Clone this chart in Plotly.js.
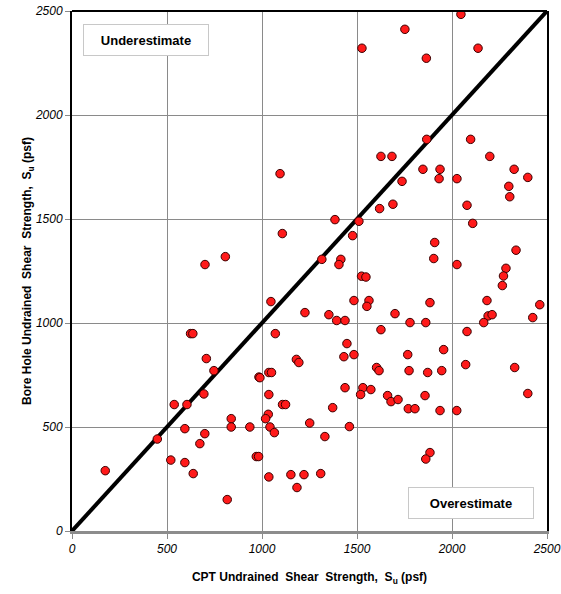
<!DOCTYPE html>
<html>
<head>
<meta charset="utf-8">
<script src="https://cdn.plot.ly/plotly-3.0.1.min.js"></script>
<style>html,body{margin:0;padding:0;background:#fff}#chart{width:561px;height:594px}</style>
</head>
<body>
<div id="chart"></div>
<script>
// CPT undrained shear strength (psf)
var cptSu = [
  1095,1107,807,700,
  2047,1752,1526,2137,1865,1867,2098,1626,1684,2199,1847,1937,2327,1932,2026,2399,1737,2299,2304,1619,1689,2079,2109,1384,1510,1477,1909,2337,1315,1415,1405,1904,2026,2284,2271,1524,1547,
  1047,1226,624,636,1070,707,747,1181,1194,1036,1050,984,989,694,1036,538,605,1108,1124,838,1033,1019,1251,594,838,936,1042,1065,699,449,673,520,594,638,970,982,175,1036,1152,1221,1184,817,
  2265,1484,1563,1552,1884,2184,2462,1352,1393,1437,1700,1779,1862,2190,2211,2167,2425,1626,2079,1447,1431,1484,1767,1956,1603,1616,1774,1872,1946,2072,2330,2399,1437,1531,1573,1519,1661,1679,1716,1858,1372,1770,1805,1937,2025,1460,1331,1884,1862,1309
];
// Bore hole undrained shear strength (psf)
var boreSu = [
  1718,1430,1319,1281,
  2484,2412,2321,2321,2273,1883,1883,1801,1801,1801,1739,1739,1739,1694,1694,1700,1681,1657,1607,1550,1571,1566,1479,1497,1489,1420,1387,1350,1306,1306,1281,1310,1281,1263,1226,1225,1221,
  1103,1050,949,949,949,829,771,825,810,762,762,740,737,659,656,608,608,608,608,540,561,540,519,492,500,500,500,473,468,442,420,341,329,276,358,358,290,260,271,271,209,151,
  1180,1108,1108,1080,1098,1108,1088,1040,1012,1012,1045,1002,1002,1034,1040,1002,1026,968,959,901,838,848,848,872,786,771,771,762,771,800,786,661,689,689,680,656,651,622,632,651,593,588,588,579,579,502,454,377,346,276
];
// 1:1 line
var lineX = [0, 2500];
var lineY = [0, 2500];
var tickVals = [0, 500, 1000, 1500, 2000, 2500];
var tickText = ['0', '500', '1000', '1500', '2000', '2500'];

var font = 'Arial, "Liberation Sans", sans-serif';

var traces = [
  {x: lineX, y: lineY, mode: 'lines', type: 'scatter', line: {color: '#000', width: 4}, hoverinfo: 'skip', showlegend: false},
  {x: cptSu, y: boreSu, mode: 'markers', type: 'scatter', showlegend: false,
   marker: {color: '#ff1a1a', size: 8.5, line: {color: '#3a0000', width: 1}}}
];

var axisCommon = {
  range: [0, 2500], tickvals: tickVals,
  ticktext: tickText.map(function (t) { return '<i>' + t + '</i>'; }),
  showgrid: true, gridcolor: '#8a8a8a', gridwidth: 1, zeroline: false,
  ticks: 'outside', ticklen: 5, tickcolor: '#8a8a8a', tickwidth: 1,
  tickfont: {family: font, size: 12, color: '#000', style: 'italic'},
  showline: true
};

var layout = {
  width: 561, height: 594,
  margin: {l: 72, r: 14, t: 11, b: 63},
  paper_bgcolor: '#fff', plot_bgcolor: '#fff',
  font: {family: font, color: '#000'},
  xaxis: Object.assign({}, axisCommon, {
    linecolor: '#8c8c8c', linewidth: 3, mirror: false,
    title: {text: '<b>CPT Undrained  Shear  Strength,  S<sub>u</sub> (psf)</b>', font: {family: font, size: 12, color: '#000'}, standoff: 18}
  }),
  yaxis: Object.assign({}, axisCommon, {
    linecolor: '#000', linewidth: 2, mirror: true,
    title: {text: '<b>Bore Hole Undrained  Shear  Strength,  S<sub>u</sub> (psf)</b>', font: {family: font, size: 12, color: '#000'}, standoff: 0}
  }),
  shapes: [
    {type: 'line', xref: 'paper', yref: 'paper', x0: 0, x1: 1, y0: 1, y1: 1, line: {color: '#000', width: 2}}
  ],
  annotations: [
    {x: 387, y: 2359, xref: 'x', yref: 'y', text: '<b>Underestimate</b>', showarrow: false,
     font: {family: font, size: 13, color: '#000'}, bgcolor: '#fff', bordercolor: '#c8c8c8', borderwidth: 1,
     borderpad: 8, width: 108, height: 14},
    {x: 2100, y: 137, xref: 'x', yref: 'y', text: '<b>Overestimate</b>', showarrow: false,
     font: {family: font, size: 13, color: '#000'}, bgcolor: '#fff', bordercolor: '#c8c8c8', borderwidth: 1,
     borderpad: 8, width: 108, height: 14}
  ]
};

Plotly.newPlot('chart', traces, layout, {displayModeBar: false, staticPlot: true});
</script>
</body>
</html>
